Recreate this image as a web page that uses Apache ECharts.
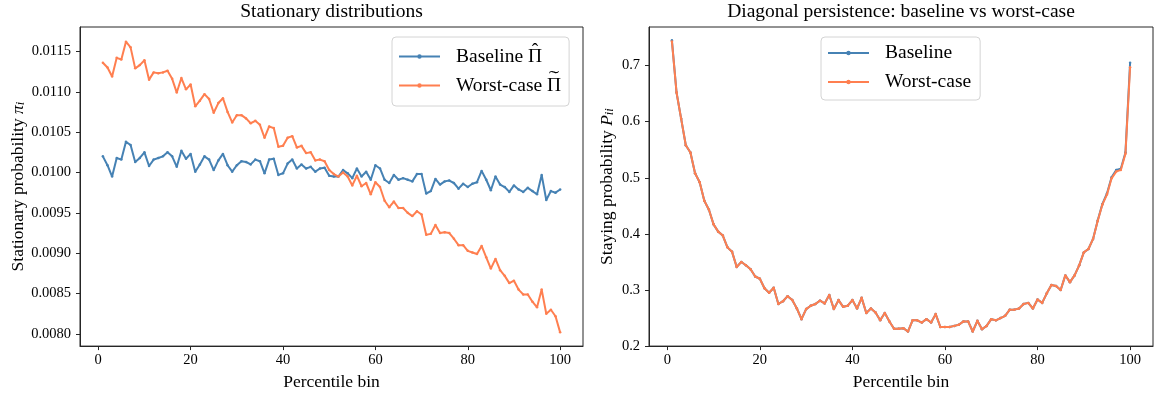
<!DOCTYPE html>
<html>
<head>
<meta charset="utf-8">
<script src="https://cdn.jsdelivr.net/npm/echarts@6/dist/echarts.min.js"></script>
<style>
  html, body { margin: 0; padding: 0; background: #ffffff; }
  #chart { width: 1156px; height: 396px; }
</style>
</head>
<body>
<div id="chart"></div>
<script>
// Percentile bins 1..100
const bins = Array.from({ length: 100 }, (_, i) => i + 1);

// Stationary distribution, baseline
const stationaryBaseline = [
  0.01020, 0.01009, 0.00995, 0.01018, 0.01016, 0.01038, 0.01034, 0.01013, 0.01018, 0.01025,
  0.01008, 0.01016, 0.01018, 0.01020, 0.01025, 0.01020, 0.01007, 0.01027, 0.01017, 0.01023,
  0.01001, 0.01010, 0.01020, 0.01016, 0.01003, 0.01015, 0.01023, 0.01009, 0.01001, 0.01009,
  0.01014, 0.01013, 0.01010, 0.01016, 0.01014, 0.00999, 0.01016, 0.01017, 0.00997, 0.00999,
  0.01011, 0.01016, 0.01005, 0.01010, 0.01005, 0.01007, 0.01001, 0.01005, 0.01006, 0.00996,
  0.00995, 0.00995, 0.01003, 0.00999, 0.00993, 0.01005, 0.00995, 0.01001, 0.00991, 0.01009,
  0.01005, 0.00991, 0.00987, 0.00997, 0.00991, 0.00993, 0.00991, 0.00989, 0.00998, 0.00998,
  0.00974, 0.00977, 0.00992, 0.00985, 0.00989, 0.00990, 0.00987, 0.00980, 0.00986, 0.00982,
  0.00986, 0.00988, 0.01002, 0.00991, 0.00978, 0.00995, 0.00985, 0.00982, 0.00976, 0.00984,
  0.00979, 0.00976, 0.00981, 0.00977, 0.00973, 0.00997, 0.00966, 0.00977, 0.00975, 0.00979
];

// Stationary distribution, worst case
const stationaryWorst = [
  0.01136, 0.01130, 0.01119, 0.01142, 0.01140, 0.01162, 0.01155, 0.01129, 0.01133, 0.01139,
  0.01115, 0.01124, 0.01123, 0.01124, 0.01126, 0.01116, 0.01099, 0.01117, 0.01103, 0.01109,
  0.01082, 0.01089, 0.01097, 0.01091, 0.01074, 0.01086, 0.01092, 0.01075, 0.01062, 0.01071,
  0.01071, 0.01067, 0.01061, 0.01064, 0.01059, 0.01043, 0.01057, 0.01055, 0.01032, 0.01033,
  0.01043, 0.01045, 0.01031, 0.01033, 0.01024, 0.01025, 0.01015, 0.01016, 0.01014, 0.01003,
  0.00998, 0.00995, 0.01000, 0.00995, 0.00984, 0.00996, 0.00983, 0.00987, 0.00973, 0.00988,
  0.00982, 0.00965, 0.00957, 0.00964, 0.00956, 0.00956, 0.00950, 0.00946, 0.00952, 0.00948,
  0.00923, 0.00924, 0.00935, 0.00925, 0.00926, 0.00925, 0.00918, 0.00910, 0.00910, 0.00903,
  0.00901, 0.00899, 0.00909, 0.00895, 0.00881, 0.00893, 0.00879, 0.00872, 0.00863, 0.00866,
  0.00855, 0.00849, 0.00849, 0.00840, 0.00833, 0.00855, 0.00825, 0.00830, 0.00822, 0.00802
];

// Diagonal staying probability, baseline
const stayBaseline = [
  0.745, 0.652, 0.605, 0.558, 0.545, 0.508, 0.492, 0.459, 0.443, 0.417,
  0.404, 0.397, 0.376, 0.368, 0.341, 0.350, 0.344, 0.337, 0.324, 0.320,
  0.303, 0.295, 0.304, 0.275, 0.280, 0.289, 0.282, 0.267, 0.248, 0.266,
  0.272, 0.275, 0.281, 0.276, 0.291, 0.266, 0.282, 0.270, 0.272, 0.282,
  0.267, 0.286, 0.259, 0.267, 0.260, 0.246, 0.259, 0.244, 0.231, 0.231,
  0.232, 0.226, 0.246, 0.246, 0.242, 0.248, 0.242, 0.257, 0.234, 0.234,
  0.234, 0.236, 0.238, 0.244, 0.244, 0.226, 0.245, 0.230, 0.236, 0.248,
  0.246, 0.250, 0.254, 0.265, 0.265, 0.267, 0.275, 0.277, 0.267, 0.283,
  0.277, 0.294, 0.309, 0.307, 0.300, 0.326, 0.314, 0.326, 0.344, 0.367,
  0.373, 0.391, 0.424, 0.453, 0.472, 0.501, 0.514, 0.516, 0.545, 0.705
];

// Diagonal staying probability, worst case
const stayWorst = [
  0.743, 0.652, 0.605, 0.558, 0.545, 0.508, 0.492, 0.459, 0.443, 0.417,
  0.404, 0.397, 0.376, 0.368, 0.341, 0.350, 0.344, 0.337, 0.324, 0.320,
  0.303, 0.295, 0.304, 0.275, 0.280, 0.289, 0.282, 0.267, 0.248, 0.266,
  0.272, 0.275, 0.281, 0.276, 0.291, 0.266, 0.282, 0.270, 0.272, 0.282,
  0.267, 0.286, 0.259, 0.267, 0.260, 0.246, 0.259, 0.244, 0.231, 0.231,
  0.232, 0.226, 0.246, 0.246, 0.242, 0.248, 0.242, 0.257, 0.234, 0.234,
  0.234, 0.236, 0.238, 0.244, 0.244, 0.226, 0.245, 0.230, 0.236, 0.248,
  0.246, 0.250, 0.254, 0.265, 0.265, 0.267, 0.275, 0.277, 0.267, 0.283,
  0.277, 0.294, 0.309, 0.307, 0.300, 0.326, 0.314, 0.326, 0.344, 0.367,
  0.373, 0.391, 0.423, 0.452, 0.470, 0.499, 0.511, 0.514, 0.543, 0.697
];

// Tick labels
const xTicks = [0, 20, 40, 60, 80, 100];
const stationaryTicks = [0.0080, 0.0085, 0.0090, 0.0095, 0.0100, 0.0105, 0.0110, 0.0115];
const stayTicks = [0.2, 0.3, 0.4, 0.5, 0.6, 0.7];

const FONT = '"Liberation Serif", "DejaVu Serif", serif';
const INK = '#000000';
const FRAME = '#262626';
const BLUE = '#4682b4';
const ORANGE = '#ff7f50';
const LEGEND_SIZE = 19.5;

// Legend handle: a short line with a small dot in the middle
const HANDLE = 'path://M0,1.2 L41,1.2 L41,3.2 L0,3.2 Z M18.3,2.2 A2.2,2.2 0 1 1 22.7,2.2 A2.2,2.2 0 1 1 18.3,2.2 Z';

// Legend boxes
const LEG1 = { left: 392, top: 37, pad: [9.5, 8, 10.5, 7], gap: 9 };
const LEG2 = { left: 821, top: 37, pad: [6, 9, 8, 7], gap: 9 };
const ICON_W = 41, TEXT_PAD = 11;

const pairs = (ys) => bins.map((b, i) => [b, ys[i]]);

function xAxisFor(gridIndex) {
  return {
    type: 'value', gridIndex,
    min: -3.95, max: 104.95,
    name: 'Percentile bin', nameLocation: 'middle', nameGap: 22,
    nameTextStyle: { fontFamily: FONT, fontSize: 17.5, color: INK },
    axisLine: { show: true, onZero: false, lineStyle: { color: FRAME, width: 1 } },
    axisTick: { show: true, length: 4, lineStyle: { color: FRAME, width: 1 }, customValues: xTicks },
    axisLabel: { fontFamily: FONT, fontSize: 14.5, color: INK, margin: 7, customValues: xTicks,
                 formatter: (v) => String(Math.round(v)) },
    splitLine: { show: false }
  };
}

function yAxisFor(gridIndex, min, max, name, gap, ticks, digits) {
  return {
    type: 'value', gridIndex, min, max,
    name, nameLocation: 'middle', nameGap: gap,
    nameTextStyle: {
      fontFamily: FONT, fontSize: 17.5, color: INK,
      rich: {
        it: { fontFamily: FONT, fontSize: 17.5, fontStyle: 'italic', color: INK },
        sub: { fontFamily: FONT, fontSize: 12.5, fontStyle: 'italic', color: INK, verticalAlign: 'bottom', lineHeight: 8 }
      }
    },
    axisLine: { show: true, onZero: false, lineStyle: { color: FRAME, width: 1 } },
    axisTick: { show: true, length: 4, lineStyle: { color: FRAME, width: 1 }, customValues: ticks },
    axisLabel: { fontFamily: FONT, fontSize: 14.5, color: INK, margin: 9, customValues: ticks,
                 formatter: (v) => v.toFixed(digits) },
    splitLine: { show: false }
  };
}

function lineSeries(name, xi, yi, ys, color, z) {
  return {
    type: 'line', name, xAxisIndex: xi, yAxisIndex: yi,
    data: pairs(ys),
    symbol: 'circle', symbolSize: 2.5, showSymbol: true,
    lineStyle: { color, width: 2 },
    itemStyle: { color, borderWidth: 0 },
    z, animation: false, silent: true
  };
}

function legendFor(names, g) {
  return {
    data: names, orient: 'vertical', left: g.left, top: g.top,
    icon: HANDLE, itemWidth: ICON_W, itemHeight: 4.4, itemGap: g.gap,
    padding: g.pad, backgroundColor: '#ffffff', borderColor: '#d4d4d4', borderWidth: 1, borderRadius: 4,
    selectedMode: false,
    itemStyle: { borderWidth: 0 },
    textStyle: { fontFamily: FONT, fontSize: LEGEND_SIZE, color: INK, padding: [0, 0, 0, TEXT_PAD] }
  };
}

// Accents over the Π symbols in the left legend (hat and wide tilde)
const measure = document.createElement('canvas').getContext('2d');
measure.font = LEGEND_SIZE + 'px "Liberation Serif"';
const legendTextX = LEG1.left + LEG1.pad[3] + ICON_W + 5 + TEXT_PAD;
const piW = measure.measureText('Π').width;
const hatX = legendTextX + measure.measureText('Baseline ').width + piW / 2;
const tildeX = legendTextX + measure.measureText('Worst-case ').width + piW / 2;
const ROW1 = 54, ROW2 = 83;

const option = {
  backgroundColor: '#ffffff',
  animation: false,
  title: [
    { text: 'Stationary distributions', left: 331.5, top: 2, padding: 0, textAlign: 'center',
      textStyle: { fontFamily: FONT, fontSize: 19.5, fontWeight: 'normal', color: INK } },
    { text: 'Diagonal persistence: baseline vs worst-case', left: 901, top: 2, padding: 0, textAlign: 'center',
      textStyle: { fontFamily: FONT, fontSize: 19.5, fontWeight: 'normal', color: INK } }
  ],
  legend: [
    legendFor(['Baseline Π', 'Worst-case Π'], LEG1),
    legendFor(['Baseline', 'Worst-case'], LEG2)
  ],
  grid: [
    { left: 80, top: 27, width: 503, height: 323, show: true, borderColor: FRAME, borderWidth: 1, backgroundColor: 'transparent' },
    { left: 649, top: 27, width: 504, height: 323, show: true, borderColor: FRAME, borderWidth: 1, backgroundColor: 'transparent' }
  ],
  xAxis: [xAxisFor(0), xAxisFor(1)],
  yAxis: [
    yAxisFor(0, 0.00785, 0.011802, 'Stationary probability {it|π}{sub|i}', 53, stationaryTicks, 4),
    yAxisFor(1, 0.2, 0.7687, 'Staying probability {it|P}{sub|ii}', 33, stayTicks, 1)
  ],
  graphic: [
    { type: 'text', z: 100, x: hatX, y: ROW1 - 3.5,
      style: { text: '\u02C6', font: LEGEND_SIZE + 'px "Liberation Serif"', fill: INK, align: 'center', verticalAlign: 'middle' } },
    { type: 'text', z: 100, x: tildeX, y: ROW2 - 4, scaleX: 1.6,
      style: { text: '\u02DC', font: LEGEND_SIZE + 'px "Liberation Serif"', fill: INK, align: 'center', verticalAlign: 'middle' } }
  ],
  series: [
    lineSeries('Baseline Π', 0, 0, stationaryBaseline, BLUE, 2),
    lineSeries('Worst-case Π', 0, 0, stationaryWorst, ORANGE, 3),
    lineSeries('Baseline', 1, 1, stayBaseline, BLUE, 2),
    lineSeries('Worst-case', 1, 1, stayWorst, ORANGE, 3)
  ]
};

const chart = echarts.init(document.getElementById('chart'), null, { renderer: 'canvas' });
chart.setOption(option);
</script>
</body>
</html>
